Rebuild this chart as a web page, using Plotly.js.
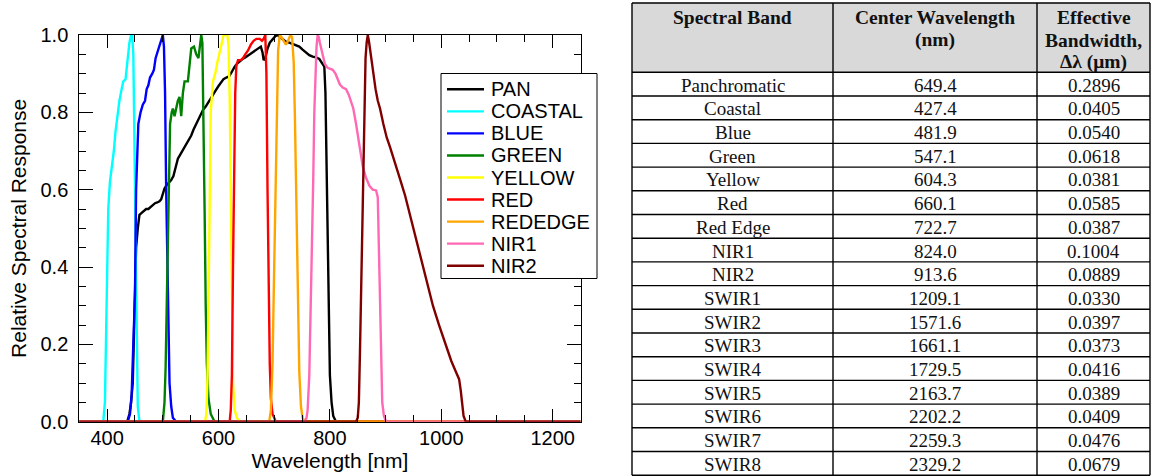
<!DOCTYPE html>
<html>
<head>
<meta charset="utf-8">
<script src="https://cdn.plot.ly/plotly-3.0.1.min.js"></script>
<style>html,body{margin:0;padding:0;background:#fff;}#chart{width:1154px;height:476px;}</style>
</head>
<body>
<div id="chart"></div>
<script>
// ---- spectral response curves (wavelength nm, relative response) ----
const panX = [350,436,440,443,446,448,450,452,455,458,462,466,470,474,478,482,486,490,494,497,500,503,507,511,515,519,523,527,531,535,539,543,547,551,555,560,564,568,572,577,581,585,590,595,600,605,609,614,619,624,629,634,638,643,648,653,658,663,668,672,676,679,681,684,688,692,697,702,706,711,716,721,727,733,739,745,751,757,763,769,775,781,786,790,792,794,796,798,800,803,806,811,1250];
const panY = [0,0,0.02,0.05,0.1,0.25,0.34,0.45,0.5,0.535,0.54,0.545,0.55,0.55,0.555,0.56,0.565,0.567,0.57,0.575,0.59,0.603,0.612,0.618,0.625,0.635,0.66,0.68,0.69,0.7,0.71,0.72,0.73,0.74,0.755,0.77,0.78,0.795,0.806,0.815,0.825,0.835,0.845,0.857,0.868,0.878,0.886,0.89,0.893,0.905,0.918,0.927,0.933,0.938,0.942,0.947,0.952,0.958,0.963,0.968,0.97,0.955,0.935,0.94,0.965,0.98,0.99,0.997,1.0,0.995,0.988,0.983,0.98,0.977,0.975,0.97,0.962,0.955,0.948,0.944,0.942,0.938,0.928,0.918,0.85,0.65,0.42,0.22,0.12,0.05,0.015,0,0];

const coastalX = [350,393,396,398,400,402,405,408,412,415,418,422,426,429,433,436,440,443,445,447,449,451,453,455,458,1250];
const coastalY = [0,0,0.05,0.2,0.4,0.55,0.62,0.65,0.7,0.75,0.79,0.83,0.86,0.88,0.885,0.93,0.98,1.0,1.0,0.95,0.7,0.4,0.15,0.04,0,0];

const blueX = [350,437,441,444,447,450,452,454,456,460,464,468,471,474,477,481,484,487,491,495,498,500,502,504,506,508,510,512,515,518,524,1250];
const blueY = [0,0,0.02,0.07,0.2,0.33,0.6,0.72,0.77,0.8,0.82,0.83,0.86,0.87,0.89,0.9,0.91,0.94,0.96,0.98,0.99,1.0,0.97,0.85,0.6,0.4,0.22,0.1,0.04,0.01,0,0];

const greenX = [350,500,503,505,507,509,511,513,516,518,521,524,527,530,533,536,539,545,548,551,556,560,564,566,569,571,573,575,577,579,582,586,593,1250];
const greenY = [0,0,0.05,0.14,0.3,0.48,0.65,0.77,0.8,0.81,0.79,0.815,0.83,0.84,0.79,0.85,0.88,0.88,0.92,0.965,0.97,0.95,0.94,0.97,1.0,0.98,0.8,0.55,0.3,0.15,0.06,0.02,0,0];

const yellowX = [350,576,578,580,582,584,586,590,594,598,602,606,609,616,618,620,622,624,626,629,633,638,1250];
const yellowY = [0,0,0.02,0.1,0.3,0.58,0.8,0.88,0.9,0.93,0.96,0.98,1.0,1.0,0.97,0.84,0.6,0.3,0.1,0.03,0.01,0,0];

const redX = [350,620,622,624,626,628,630,632,635,640,644,648,653,658,663,668,674,678,681,684,686,688,690,692,694,697,703,1250];
const redY = [0,0,0.03,0.12,0.4,0.65,0.85,0.92,0.935,0.935,0.94,0.95,0.96,0.975,0.985,0.99,0.99,0.985,0.99,1.0,0.9,0.6,0.35,0.15,0.06,0.02,0,0];

const rededgeX = [350,691,694,697,699,701,703,705,707,710,713,717,721,725,729,732,735,737,739,741,743,745,748,751,755,1250];
const rededgeY = [0,0,0.03,0.15,0.32,0.5,0.7,0.88,0.96,1.0,0.995,0.985,0.975,0.985,1.0,0.995,0.93,0.8,0.65,0.45,0.3,0.13,0.04,0.01,0,0];

const nir1X = [350,755,758,760,763,766,768,770,772,774,776,778,780,782,785,788,791,796,800,805,810,814,818,823,829,834,838,842,847,853,859,865,871,877,883,886,888,890,892,894,897,901,1250];
const nir1Y = [0,0,0.01,0.03,0.12,0.3,0.45,0.62,0.8,0.91,0.97,1.0,0.995,0.98,0.96,0.94,0.925,0.915,0.912,0.91,0.9,0.885,0.872,0.864,0.86,0.845,0.83,0.81,0.77,0.71,0.66,0.63,0.61,0.6,0.598,0.58,0.45,0.28,0.13,0.05,0.015,0,0];

const nir2X = [350,847,850,852,854,856,858,860,862,864,866,868,870,874,878,882,886,890,896,902,908,915,925,935,948,960,972,985,996,1008,1018,1026,1032,1035,1037,1040,1044,1250];
const nir2Y = [0,0,0.01,0.05,0.18,0.35,0.52,0.7,0.84,0.94,0.98,1.0,0.985,0.94,0.89,0.86,0.83,0.81,0.77,0.735,0.71,0.675,0.632,0.585,0.51,0.44,0.367,0.3,0.25,0.2,0.157,0.13,0.11,0.08,0.05,0.015,0,0];

const seriesNames = ["PAN","COASTAL","BLUE","GREEN","YELLOW","RED","REDEDGE","NIR1","NIR2"];
const seriesColors = ["#000000","#00ffff","#0000ff","#008000","#ffff00","#ff0000","#ffa500","#ff69b4","#800000"];
const seriesX = [panX, coastalX, blueX, greenX, yellowX, redX, rededgeX, nir1X, nir2X];
const seriesY = [panY, coastalY, blueY, greenY, yellowY, redY, rededgeY, nir1Y, nir2Y];

// ---- table ----
const headerLines = [["Spectral Band"], ["Center Wavelength", "(nm)"], ["Effective", "Bandwidth,", "Δλ (μm)"]];
const bandNames = ["Panchromatic","Coastal","Blue","Green","Yellow","Red","Red Edge","NIR1","NIR2","SWIR1","SWIR2","SWIR3","SWIR4","SWIR5","SWIR6","SWIR7","SWIR8"];
const centerWavelengths = [649.4,427.4,481.9,547.1,604.3,660.1,722.7,824.0,913.6,1209.1,1571.6,1661.1,1729.5,2163.7,2202.2,2259.3,2329.2];
const bandwidths = [0.2896,0.0405,0.0540,0.0618,0.0381,0.0585,0.0387,0.1004,0.0889,0.0330,0.0397,0.0373,0.0416,0.0389,0.0409,0.0476,0.0679];

const W = 1154, H = 476;
const px = v => v / W;
const py = v => 1 - v / H;

const traces = seriesNames.map((n, i) => ({
  type: "scatter", mode: "lines", name: n,
  x: seriesX[i], y: seriesY[i],
  line: {color: seriesColors[i], width: 2.4},
  showlegend: false, hoverinfo: "skip"
}));

const shapes = [];
const annotations = [];

// custom legend (box, line samples, labels)
shapes.push({
  type: "rect", xref: "paper", yref: "paper",
  x0: px(441), x1: px(597), y0: py(278.5), y1: py(73.5),
  line: {color: "#000000", width: 1}, fillcolor: "#ffffff", layer: "above"
});
seriesNames.forEach((n, i) => {
  const yc = 89.3 + i * 22.05;
  shapes.push({type: "line", xref: "paper", yref: "paper",
    x0: px(447), x1: px(484), y0: py(yc), y1: py(yc),
    line: {color: seriesColors[i], width: 2.4}, layer: "above"});
  annotations.push({xref: "paper", yref: "paper", x: px(489), y: py(yc),
    xanchor: "left", yanchor: "middle", showarrow: false, text: n,
    font: {family: "Liberation Sans, Arial, sans-serif", size: 20, color: "#000000"}});
});

// table drawn with shapes + annotations
const serif = "Liberation Serif, Times New Roman, serif";
const colW = [201, 204, 113];
const tableLeft = 632, tableTop = 3, headerBottom = 72.3, rowH = 23.7;
const colEdges = [tableLeft];
colW.forEach(w => colEdges.push(colEdges[colEdges.length - 1] + w));
const tableRight = colEdges[colEdges.length - 1];
const tableBottom = headerBottom + rowH * bandNames.length;
const lineStyle = {color: "#000000", width: 1.4};

shapes.push({type: "rect", xref: "paper", yref: "paper",
  x0: px(tableLeft), x1: px(tableRight), y0: py(headerBottom), y1: py(tableTop),
  fillcolor: "#d9d9d9", line: {width: 0}, layer: "below"});
shapes.push({type: "line", xref: "paper", yref: "paper",
  x0: px(tableLeft), x1: px(tableRight), y0: py(tableTop), y1: py(tableTop), line: lineStyle});
for (let k = 0; k <= bandNames.length; k++) {
  const yl = headerBottom + k * rowH;
  shapes.push({type: "line", xref: "paper", yref: "paper",
    x0: px(tableLeft), x1: px(tableRight), y0: py(yl), y1: py(yl), line: lineStyle});
}
colEdges.forEach(xe => {
  shapes.push({type: "line", xref: "paper", yref: "paper",
    x0: px(xe), x1: px(xe), y0: py(tableTop), y1: py(Math.min(tableBottom, H + 2)), line: lineStyle});
});

headerLines.forEach((lines, c) => {
  const cx = (colEdges[c] + colEdges[c + 1]) / 2;
  lines.forEach((t, k) => {
    annotations.push({xref: "paper", yref: "paper", x: px(cx), y: py(17.5 + k * 22.5),
      xanchor: "center", yanchor: "middle", showarrow: false, text: "<b>" + t + "</b>",
      font: {family: serif, size: 19.5, color: "#111111"}});
  });
});

const columnTexts = [bandNames, centerWavelengths.map(v => v.toFixed(1)), bandwidths.map(v => v.toFixed(4))];
columnTexts.forEach((col, c) => {
  const cx = (colEdges[c] + colEdges[c + 1]) / 2;
  col.forEach((t, r) => {
    annotations.push({xref: "paper", yref: "paper", x: px(cx), y: py(headerBottom + rowH * (r + 0.5) + 1),
      xanchor: "center", yanchor: "middle", showarrow: false, text: t,
      font: {family: serif, size: 19, color: "#111111"}});
  });
});

const axisFont = {family: "Liberation Sans, Arial, sans-serif", size: 20, color: "#000000"};
const layout = {
  width: W, height: H, autosize: false,
  margin: {l: 0, r: 0, t: 0, b: 0, pad: 0},
  paper_bgcolor: "#ffffff", plot_bgcolor: "#ffffff",
  showlegend: false,
  xaxis: {
    domain: [px(79.3), px(580.5)],
    range: [350, 1250],
    tickmode: "linear", tick0: 400, dtick: 200,
    ticks: "inside", ticklen: 13, tickwidth: 1, tickcolor: "#000000",
    minor: {dtick: 50, ticks: "inside", ticklen: 7, tickwidth: 1, tickcolor: "#000000"},
    showline: true, linecolor: "#000000", linewidth: 1, mirror: "ticks",
    showgrid: false, zeroline: false,
    tickfont: axisFont, ticklabelstandoff: -2,
    title: {text: "Wavelength [nm]", font: {family: "Liberation Sans, Arial, sans-serif", size: 21, color: "#000000"}, standoff: 3}
  },
  yaxis: {
    domain: [py(421.7), py(35)],
    range: [0, 1.0],
    tickmode: "linear", tick0: 0, dtick: 0.2, tickformat: ".1f",
    ticks: "inside", ticklen: 14, tickwidth: 1, tickcolor: "#000000",
    minor: {dtick: 0.05, ticks: "inside", ticklen: 7, tickwidth: 1, tickcolor: "#000000"},
    showline: true, linecolor: "#000000", linewidth: 1, mirror: "ticks",
    showgrid: false, zeroline: false,
    tickfont: axisFont, ticklabelstandoff: 6,
    title: {text: "Relative Spectral Response", font: {family: "Liberation Sans, Arial, sans-serif", size: 21, color: "#000000"}, standoff: 8}
  },
  shapes: shapes,
  annotations: annotations
};

Plotly.newPlot("chart", traces, layout, {displayModeBar: false, staticPlot: true});
</script>
</body>
</html>
